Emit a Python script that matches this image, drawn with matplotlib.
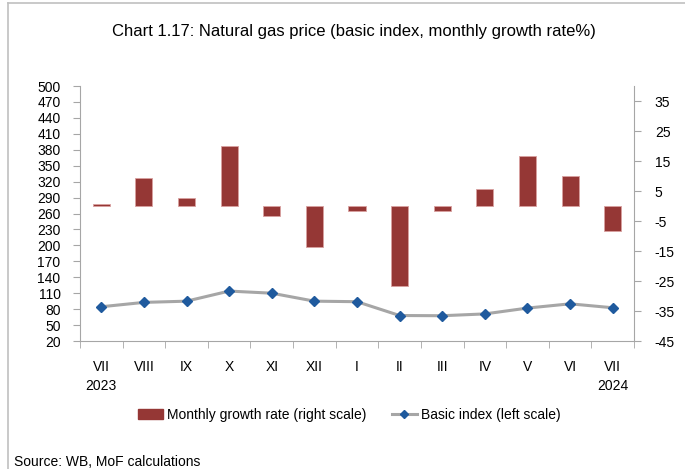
import matplotlib.pyplot as plt
from matplotlib.lines import Line2D
from matplotlib.patches import Patch

plt.rcParams['font.family'] = ['Liberation Sans', 'DejaVu Sans']
plt.rcParams['font.size'] = 10
plt.rcParams['axes.unicode_minus'] = False

# data
months = ['VII', 'VIII', 'IX', 'X', 'XI', 'XII', 'I', 'II', 'III', 'IV', 'V', 'VI', 'VII']
years = {0: '2023', 12: '2024'}
growth = [0.7, 9.2, 2.6, 20.0, -3.2, -13.8, -1.6, -26.6, -1.6, 5.6, 16.6, 10.0, -8.2]
index = [84.5, 92.7, 95, 114, 110, 95, 94, 68, 67.6, 71, 82, 90, 82.6]

left_ticks = list(range(20, 501, 30))
right_ticks = list(range(-45, 36, 10))

bar_col = '#953735'
line_col = '#A6A6A6'
mark_col = '#1F5A9E'
axis_col = '#A6A6A6'

fig = plt.figure(figsize=(6.85, 4.69), dpi=100)
ax = fig.add_axes([0.1168, 0.2729, 0.8087, 0.5437])
ax2 = ax.twinx()

x = list(range(len(months)))

# bars on the right scale, behind the line
ax2.bar(x, growth, width=0.4, color=bar_col, edgecolor='#D9A0A0', linewidth=0.6)
ax2.set_ylim(-45, 40)
ax2.set_yticks(right_ticks)

ax.set_zorder(ax2.get_zorder() + 1)
ax.patch.set_visible(False)
ax.plot(x, index, color=line_col, lw=2.2, marker='D', markersize=5,
        markerfacecolor=mark_col, markeredgecolor=mark_col)
ax.set_ylim(20, 500)
ax.set_yticks(left_ticks)

ax.set_xlim(-0.5, len(months) - 0.5)
ax.set_xticks(x)
ax.set_xticklabels(months)
ax.set_xticks([i - 0.5 for i in range(len(months) + 1)], minor=True)
ax.tick_params(axis='x', which='major', length=0, pad=14)
ax.tick_params(axis='x', which='minor', length=5, color=axis_col, direction='out')
ax.tick_params(axis='y', length=5, color=axis_col, pad=9)
ax2.tick_params(axis='y', length=5, color=axis_col, pad=10)

for a in (ax, ax2):
    a.spines['top'].set_visible(False)
    for s in ('left', 'right', 'bottom'):
        a.spines[s].set_color(axis_col)
ax.spines['right'].set_visible(False)
ax2.spines['left'].set_visible(False)
ax2.spines['bottom'].set_visible(False)

for i, yr in years.items():
    ax.annotate(yr, xy=(i, 0), xycoords=('data', 'axes fraction'),
                xytext=(0, -27), textcoords='offset points', ha='center', va='top')

fig.text(0.517, 0.932, 'Chart 1.17: Natural gas price (basic index, monthly growth rate%)',
         ha='center', va='center', fontsize=12)

handles = [Patch(facecolor=bar_col, edgecolor=bar_col),
           Line2D([], [], color=line_col, lw=2.2, marker='D', markersize=4,
                  markerfacecolor=mark_col, markeredgecolor=mark_col)]
fig.legend(handles, ['Monthly growth rate (right scale)', 'Basic index (left scale)'],
           loc='center', bbox_to_anchor=(0.51, 0.115), ncol=2, frameon=False,
           handlelength=1.8, handletextpad=0.3, columnspacing=1.8)

fig.text(0.0204, 0.015, 'Source: WB, MoF calculations', ha='left', va='center')

# outer chart frame (top and left edges visible)
fig.add_artist(Line2D([8 / 685, 1], [1 - 3 / 469, 1 - 3 / 469], color='#C0C0C0', lw=1.2,
                      transform=fig.transFigure))
fig.add_artist(Line2D([8 / 685, 8 / 685], [0, 1 - 3 / 469], color='#C0C0C0', lw=1.2,
                      transform=fig.transFigure))

fig.savefig('out.png', dpi=100)
